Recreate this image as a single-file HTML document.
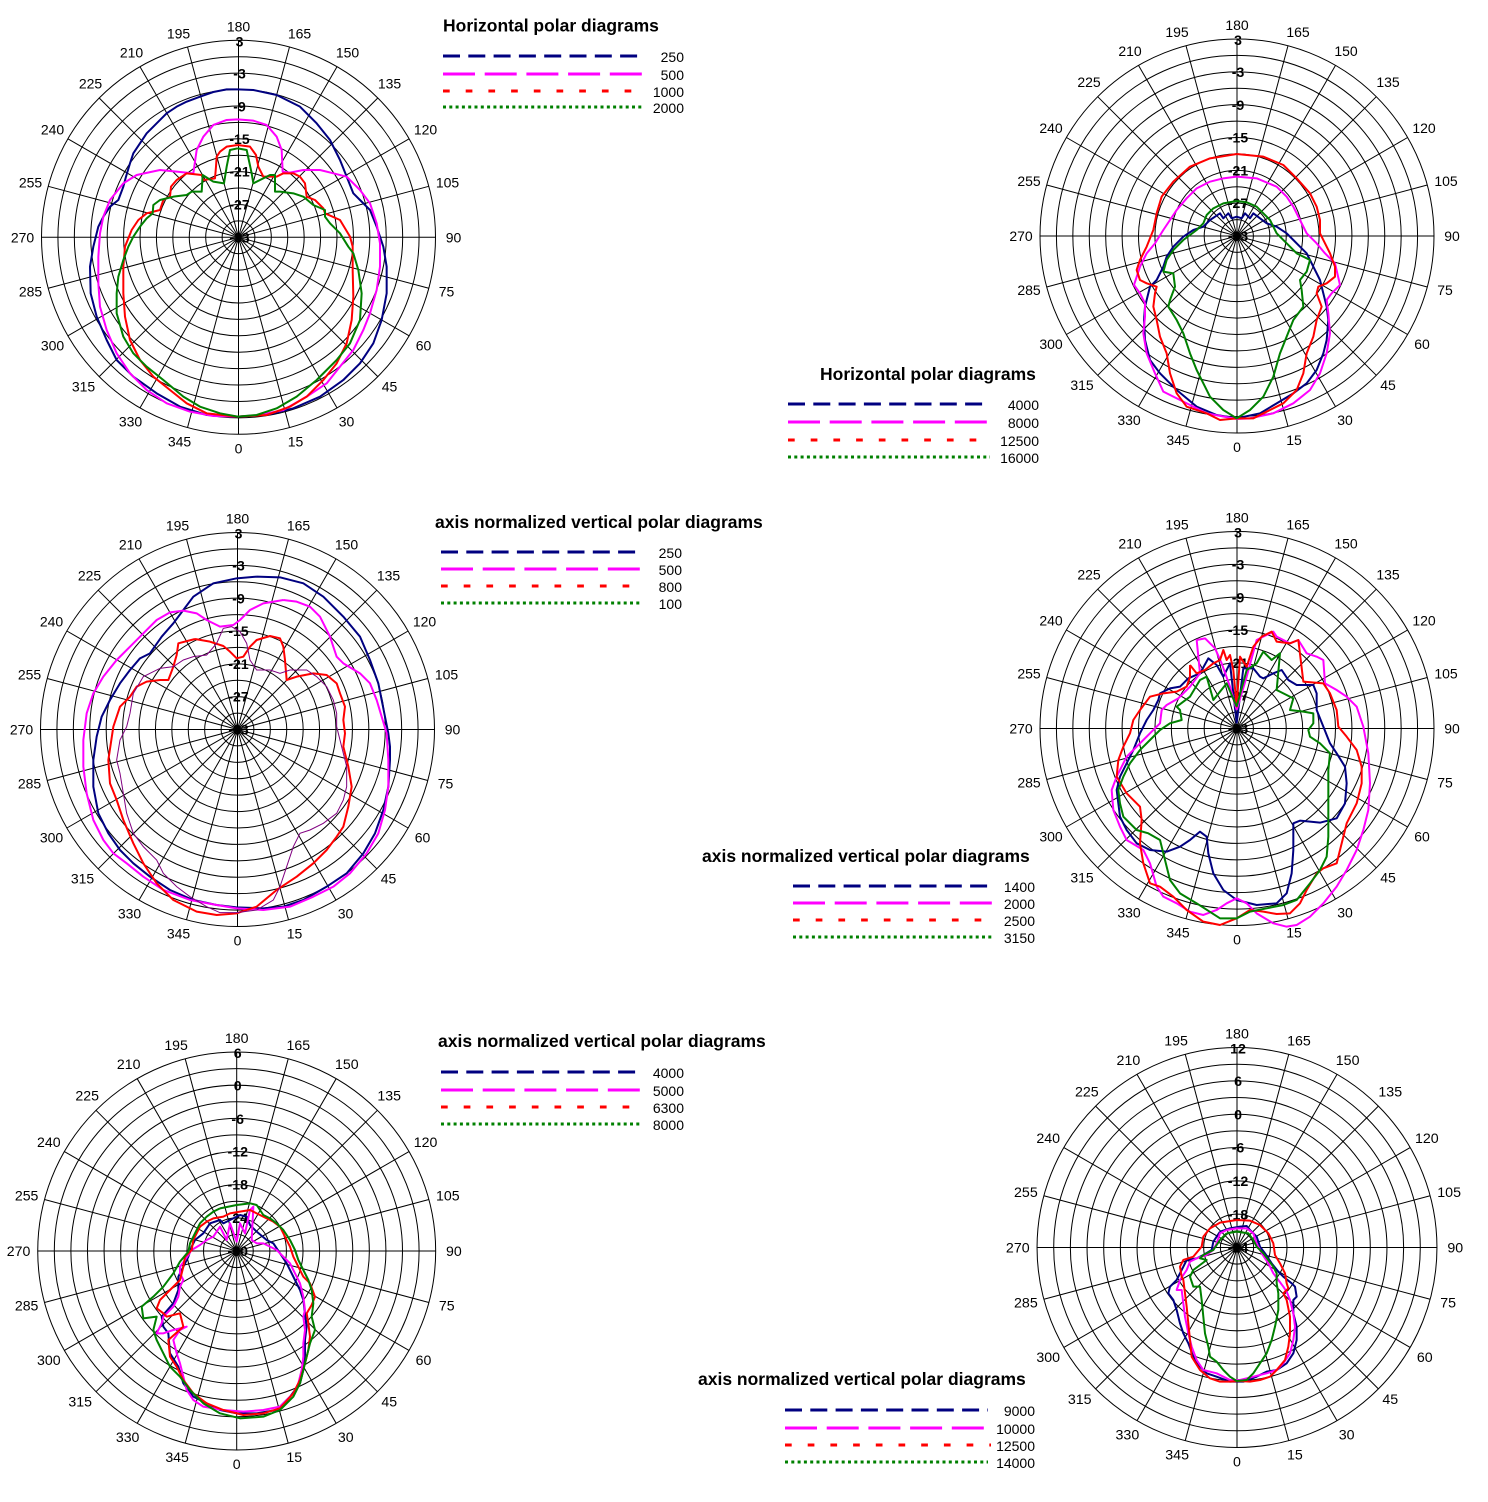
<!DOCTYPE html>
<html>
<head>
<meta charset="utf-8">
<style>
html,body{margin:0;padding:0;background:#fff;}
svg{display:block;}
text{font-family:"Liberation Sans",Arial,sans-serif;fill:#000;}
.a{font-size:14px;text-anchor:middle;}
.r{font-size:14px;font-weight:bold;text-anchor:middle;}
.t{font-size:17.5px;font-weight:bold;}
.l{font-size:14px;text-anchor:end;}
.c{fill:none;stroke-width:2;stroke-linejoin:round;vector-effect:non-scaling-stroke;}
.n{stroke:#000080;} .m{stroke:#ff00ff;} .d{stroke:#ff0000;} .g{stroke:#008000;}
.p{fill:none;stroke:#800080;stroke-width:1;vector-effect:non-scaling-stroke;}
.ln{stroke:#000080;stroke-width:3;stroke-dasharray:17 8.3;}
.lm{stroke:#ff00ff;stroke-width:3;stroke-dasharray:32 9.7;}
.ld{stroke:#ff0000;stroke-width:3;stroke-dasharray:6.7 16;}
.lg{stroke:#008000;stroke-width:3;stroke-dasharray:3 3.3;}
</style>
</head>
<body>
<svg width="1488" height="1502" viewBox="0 0 1488 1502" xmlns="http://www.w3.org/2000/svg">
<defs>
<g id="grid" fill="none" stroke="#000" stroke-width="1">
<circle r="16.42"/><circle r="32.83"/><circle r="49.25"/><circle r="65.67"/><circle r="82.08"/><circle r="98.5"/>
<circle r="114.92"/><circle r="131.33"/><circle r="147.75"/><circle r="164.17"/><circle r="180.58"/><circle r="197"/>
<line x1="0" y1="-197" x2="0" y2="197"/>
<line x1="0" y1="-197" x2="0" y2="197" transform="rotate(15)"/>
<line x1="0" y1="-197" x2="0" y2="197" transform="rotate(30)"/>
<line x1="0" y1="-197" x2="0" y2="197" transform="rotate(45)"/>
<line x1="0" y1="-197" x2="0" y2="197" transform="rotate(60)"/>
<line x1="0" y1="-197" x2="0" y2="197" transform="rotate(75)"/>
<line x1="0" y1="-197" x2="0" y2="197" transform="rotate(90)"/>
<line x1="0" y1="-197" x2="0" y2="197" transform="rotate(105)"/>
<line x1="0" y1="-197" x2="0" y2="197" transform="rotate(120)"/>
<line x1="0" y1="-197" x2="0" y2="197" transform="rotate(135)"/>
<line x1="0" y1="-197" x2="0" y2="197" transform="rotate(150)"/>
<line x1="0" y1="-197" x2="0" y2="197" transform="rotate(165)"/>
</g>
</defs>

<!-- ============ PLOT 1 : top-left ============ -->
<g transform="translate(238.5,237.3)">
<use href="#grid"/>
<text class="a" x="0" y="216">0</text><text class="a" x="57" y="209">15</text><text class="a" x="108" y="189">30</text><text class="a" x="151" y="154">45</text><text class="a" x="185" y="113">60</text><text class="a" x="208" y="59">75</text><text class="a" x="215" y="5">90</text><text class="a" x="209" y="-50">105</text><text class="a" x="187" y="-103">120</text><text class="a" x="151" y="-149">135</text><text class="a" x="109" y="-180">150</text><text class="a" x="61" y="-199">165</text><text class="a" x="0" y="-206">180</text><text class="a" x="-60" y="-199">195</text><text class="a" x="-107" y="-180">210</text><text class="a" x="-148" y="-149">225</text><text class="a" x="-186" y="-103">240</text><text class="a" x="-208" y="-50">255</text><text class="a" x="-216" y="5">270</text><text class="a" x="-208" y="59">285</text><text class="a" x="-186" y="113">300</text><text class="a" x="-155" y="154">315</text><text class="a" x="-108" y="189">330</text><text class="a" x="-59" y="209">345</text>
<text class="r" x="1" y="-191">3</text><text class="r" x="1" y="-159">-3</text><text class="r" x="1" y="-126">-9</text><text class="r" x="1" y="-93.5">-15</text><text class="r" x="1" y="-60.7">-21</text><text class="r" x="1" y="-27.8">-27</text><text class="r" x="1" y="5">-33</text>
</g>
<g transform="translate(0,0) scale(0.33333)">
<polyline class="c n" points="713,268 680,268 640,276 600,290 560,305 530,320 500,340 470,370 440,400 420,430 400,460 390,490 378,530 370,560 355,600 330,620 310,650 295,680 280,740 270,800 272,880 290,950 320,1020 350,1080 400,1130 470,1180 540,1220 620,1245 713,1250 800,1245 880,1225 960,1190 1030,1140 1080,1090 1120,1030 1145,960 1160,880 1160,800 1150,740 1130,680 1110,630 1080,600 1060,580 1040,530 1020,480 990,420 950,370 900,320 830,285 760,270 713,268"/>
<polyline class="c m" points="713,358 760,362 800,375 830,410 845,450 848,515 870,518 910,510 960,510 1000,520 1040,530 1080,570 1110,610 1130,670 1140,730 1140,800 1130,870 1110,940 1090,990 1060,1050 1020,1100 980,1150 920,1190 850,1230 780,1245 713,1250 640,1248 570,1235 500,1210 440,1170 390,1120 350,1060 320,990 300,920 295,850 295,770 300,700 310,650 330,600 370,550 410,525 480,510 530,515 580,520 590,450 610,410 640,375 680,360 713,358"/>
<polyline class="c d" points="713,435 750,440 768,465 775,500 790,530 830,530 850,520 880,520 900,530 915,550 920,590 945,600 970,625 975,640 1020,660 1050,710 1058,740 1058,810 1060,890 1055,960 1040,1030 1010,1090 970,1140 920,1190 870,1220 800,1245 713,1250 620,1240 560,1210 510,1170 460,1130 420,1080 390,1020 375,950 370,880 370,800 375,740 395,690 415,660 440,640 480,630 490,600 510,590 513,560 530,540 560,520 605,525 610,540 645,535 648,500 650,470 660,455 680,440 713,435"/>
<polyline class="c g" points="713,445 740,450 755,520 760,550 810,525 825,525 825,575 840,575 880,580 910,590 940,615 975,630 975,650 990,670 1020,700 1045,740 1060,760 1075,810 1085,880 1080,960 1050,1030 1010,1080 950,1140 890,1190 830,1225 770,1245 713,1250 660,1240 600,1220 550,1190 490,1140 440,1100 400,1060 370,1010 350,940 350,880 355,830 370,780 385,740 400,710 420,680 440,655 458,640 460,615 480,600 520,590 560,585 575,575 605,575 608,525 640,545 672,550 680,500 690,450 713,445"/>
</g>
<text class="t" x="443" y="31.5">Horizontal polar diagrams</text>
<line class="ln" x1="443" y1="56" x2="643" y2="56"/>
<line class="lm" x1="443" y1="74" x2="643" y2="74"/>
<line class="ld" x1="443" y1="91" x2="646" y2="91"/>
<line class="lg" x1="443" y1="107" x2="643" y2="107"/>
<text class="l" x="684" y="62">250</text>
<text class="l" x="684" y="80">500</text>
<text class="l" x="684" y="97">1000</text>
<text class="l" x="684" y="113">2000</text>

<!-- ============ PLOT 2 : top-right ============ -->
<g transform="translate(1237,236)">
<use href="#grid"/>
<text class="a" x="0" y="216">0</text><text class="a" x="57" y="209">15</text><text class="a" x="108" y="189">30</text><text class="a" x="151" y="154">45</text><text class="a" x="185" y="113">60</text><text class="a" x="208" y="59">75</text><text class="a" x="215" y="5">90</text><text class="a" x="209" y="-50">105</text><text class="a" x="187" y="-103">120</text><text class="a" x="151" y="-149">135</text><text class="a" x="109" y="-180">150</text><text class="a" x="61" y="-199">165</text><text class="a" x="0" y="-206">180</text><text class="a" x="-60" y="-199">195</text><text class="a" x="-107" y="-180">210</text><text class="a" x="-148" y="-149">225</text><text class="a" x="-186" y="-103">240</text><text class="a" x="-208" y="-50">255</text><text class="a" x="-216" y="5">270</text><text class="a" x="-208" y="59">285</text><text class="a" x="-186" y="113">300</text><text class="a" x="-155" y="154">315</text><text class="a" x="-108" y="189">330</text><text class="a" x="-59" y="209">345</text>
<text class="r" x="1" y="-191">3</text><text class="r" x="1" y="-159">-3</text><text class="r" x="1" y="-126">-9</text><text class="r" x="1" y="-93.5">-15</text><text class="r" x="1" y="-60.7">-21</text><text class="r" x="1" y="-27.8">-27</text><text class="r" x="1" y="5">-33</text>
</g>
<g transform="translate(1030,120) scale(0.33333)">
<polyline class="c n" points="520,320 540,300 555,290 570,280 580,295 595,280 605,295 620,290 635,295 645,280 660,295 670,280 690,295 710,310 740,320 770,340 790,360 810,380 830,400 840,420 850,440 870,480 880,520 890,560 895,600 890,660 880,700 860,750 830,790 790,820 740,850 690,880 620,895 560,885 500,860 440,810 390,760 360,720 345,660 342,600 345,560 360,500 380,480 400,440 410,410 430,380 460,350 490,330 520,320"/>
<polyline class="c m" points="620,170 680,175 740,200 770,230 790,260 810,300 830,340 860,370 885,400 915,430 930,495 905,520 890,540 895,580 900,640 890,700 870,760 840,810 790,850 730,880 660,895 620,897 530,880 460,845 400,815 375,760 350,700 340,640 345,590 345,550 330,520 312,495 330,440 350,400 375,370 400,330 420,300 440,270 470,235 500,205 540,185 580,175 620,170"/>
<polyline class="c d" points="620,102 700,110 760,135 800,175 840,220 860,260 870,300 870,340 900,400 915,440 915,470 890,490 865,500 860,520 875,560 860,600 850,650 830,700 820,760 800,810 760,850 700,880 670,895 620,895 570,900 530,880 470,860 440,820 420,760 410,700 390,650 380,600 370,560 375,520 380,500 350,490 330,480 320,450 330,420 350,380 370,330 380,280 395,230 430,185 480,140 540,115 620,102"/>
<polyline class="c g" points="620,243 650,247 680,260 700,280 720,300 740,340 770,370 800,400 840,420 830,455 810,480 815,510 820,560 790,600 770,650 750,700 730,770 700,830 660,870 620,895 580,870 540,830 520,790 500,750 480,700 460,640 440,600 415,560 420,540 435,500 430,460 400,455 410,420 430,390 460,360 500,330 520,310 530,285 550,265 580,250 620,243"/>
</g>
<text class="t" x="820" y="380">Horizontal polar diagrams</text>
<line class="ln" x1="788" y1="404" x2="990" y2="404"/>
<line class="lm" x1="788" y1="422" x2="990" y2="422"/>
<line class="ld" x1="788" y1="440" x2="991" y2="440"/>
<line class="lg" x1="788" y1="457" x2="990" y2="457"/>
<text class="l" x="1039" y="410">4000</text>
<text class="l" x="1039" y="428">8000</text>
<text class="l" x="1039" y="446">12500</text>
<text class="l" x="1039" y="463">16000</text>

<!-- ============ PLOT 3 : middle-left ============ -->
<g transform="translate(237.5,729.5)">
<use href="#grid"/>
<text class="a" x="0" y="216">0</text><text class="a" x="57" y="209">15</text><text class="a" x="108" y="189">30</text><text class="a" x="151" y="154">45</text><text class="a" x="185" y="113">60</text><text class="a" x="208" y="59">75</text><text class="a" x="215" y="5">90</text><text class="a" x="209" y="-50">105</text><text class="a" x="187" y="-103">120</text><text class="a" x="151" y="-149">135</text><text class="a" x="109" y="-180">150</text><text class="a" x="61" y="-199">165</text><text class="a" x="0" y="-206">180</text><text class="a" x="-60" y="-199">195</text><text class="a" x="-107" y="-180">210</text><text class="a" x="-148" y="-149">225</text><text class="a" x="-186" y="-103">240</text><text class="a" x="-208" y="-50">255</text><text class="a" x="-216" y="5">270</text><text class="a" x="-208" y="59">285</text><text class="a" x="-186" y="113">300</text><text class="a" x="-155" y="154">315</text><text class="a" x="-108" y="189">330</text><text class="a" x="-59" y="209">345</text>
<text class="r" x="1" y="-191">3</text><text class="r" x="1" y="-159">-3</text><text class="r" x="1" y="-126">-9</text><text class="r" x="1" y="-93.5">-15</text><text class="r" x="1" y="-60.7">-21</text><text class="r" x="1" y="-27.8">-27</text><text class="r" x="1" y="5">-33</text>
</g>
<g transform="translate(50,560) scale(0.33333)">
<polyline class="c n" points="620,50 690,52 760,70 820,110 880,170 930,230 960,300 985,370 995,420 1005,470 1015,520 1020,560 1020,600 1015,680 1000,750 975,820 940,880 890,940 830,980 760,1020 700,1040 640,1045 560,1042 500,1035 430,1020 360,990 300,950 250,910 210,870 175,820 145,760 130,680 130,600 140,530 155,470 180,420 210,370 240,330 270,295 300,280 335,230 370,190 400,150 430,110 490,70 560,55 620,50"/>
<polyline class="c m" points="700,120 740,125 780,140 810,170 840,230 860,290 880,310 930,340 960,370 980,420 995,470 1010,520 1015,600 1015,680 1005,750 985,820 950,880 900,940 850,980 790,1010 720,1040 640,1050 560,1045 500,1035 420,1020 340,990 280,950 230,910 190,880 160,840 130,780 110,700 100,620 100,540 110,460 130,400 160,350 200,300 240,260 280,220 320,180 360,157 400,152 440,160 470,180 510,200 550,195 570,180 600,150 640,130 700,120"/>
<polyline class="c d" points="435,237 480,245 520,258 540,275 560,295 580,290 600,260 620,240 660,228 690,235 700,260 705,300 710,360 740,350 790,340 830,345 860,370 870,400 885,440 880,480 885,520 880,560 895,620 905,680 895,740 880,800 860,830 830,870 790,910 740,950 680,990 620,1040 560,1060 500,1065 440,1055 370,1020 320,970 280,910 250,850 220,780 200,720 180,670 175,600 190,500 210,440 240,410 260,380 290,365 330,360 355,360 370,320 380,285 385,250 435,237"/>
<polyline class="p" points="520,205 545,200 570,215 590,250 600,300 620,330 660,330 690,340 720,330 770,330 800,350 830,380 850,420 860,460 860,500 870,540 880,580 890,620 890,680 880,720 860,760 820,790 780,810 750,820 730,860 710,920 690,980 670,1020 620,1050 560,1058 510,1058 470,1040 420,1010 380,980 340,940 320,900 280,860 250,820 230,760 220,700 210,640 200,600 210,540 230,500 240,460 250,400 280,350 330,325 370,320 400,300 430,290 470,285 500,250 520,205"/>
</g>
<text class="t" x="435" y="528">axis normalized vertical polar diagrams</text>
<line class="ln" x1="441" y1="552" x2="641" y2="552"/>
<line class="lm" x1="441" y1="569" x2="641" y2="569"/>
<line class="ld" x1="441" y1="586" x2="644" y2="586"/>
<line class="lg" x1="441" y1="603" x2="641" y2="603"/>
<text class="l" x="682" y="558">250</text>
<text class="l" x="682" y="575">500</text>
<text class="l" x="682" y="592">800</text>
<text class="l" x="682" y="609">100</text>

<!-- ============ PLOT 4 : middle-right ============ -->
<g transform="translate(1237,728.5)">
<use href="#grid"/>
<text class="a" x="0" y="216">0</text><text class="a" x="57" y="209">15</text><text class="a" x="108" y="189">30</text><text class="a" x="151" y="154">45</text><text class="a" x="185" y="113">60</text><text class="a" x="208" y="59">75</text><text class="a" x="215" y="5">90</text><text class="a" x="209" y="-50">105</text><text class="a" x="187" y="-103">120</text><text class="a" x="151" y="-149">135</text><text class="a" x="109" y="-180">150</text><text class="a" x="61" y="-199">165</text><text class="a" x="0" y="-206">180</text><text class="a" x="-60" y="-199">195</text><text class="a" x="-107" y="-180">210</text><text class="a" x="-148" y="-149">225</text><text class="a" x="-186" y="-103">240</text><text class="a" x="-208" y="-50">255</text><text class="a" x="-216" y="5">270</text><text class="a" x="-208" y="59">285</text><text class="a" x="-186" y="113">300</text><text class="a" x="-155" y="154">315</text><text class="a" x="-108" y="189">330</text><text class="a" x="-59" y="209">345</text>
<text class="r" x="1" y="-191">3</text><text class="r" x="1" y="-159">-3</text><text class="r" x="1" y="-126">-9</text><text class="r" x="1" y="-93.5">-15</text><text class="r" x="1" y="-60.7">-21</text><text class="r" x="1" y="-27.8">-27</text><text class="r" x="1" y="5">-33</text>
</g>
<g transform="translate(1090,610) scale(0.33333)">
<polyline class="c n" points="440,340 460,175 490,175 510,200 520,205 550,190 575,180 595,210 620,225 670,225 680,250 680,300 700,350 720,400 740,430 765,470 770,520 765,580 740,625 690,638 630,632 610,640 610,720 605,790 590,850 560,880 500,885 440,870 400,840 370,790 355,730 350,680 330,665 300,690 270,710 230,725 180,720 140,700 110,660 90,620 85,580 80,540 90,500 110,460 130,420 150,370 170,330 190,300 205,270 210,250 240,235 270,230 295,205 330,190 355,145 380,165 400,200 420,160 440,340"/>
<polyline class="c m" points="440,300 470,200 500,90 520,80 550,65 560,80 600,100 625,90 650,130 680,140 700,150 705,220 740,240 770,260 800,290 820,350 835,430 840,520 835,600 820,660 800,720 770,780 740,830 700,880 660,920 620,945 590,950 550,940 500,910 470,880 440,865 410,880 380,900 340,915 300,905 260,880 220,860 200,830 180,760 160,720 110,690 90,650 70,600 65,540 80,500 110,440 140,410 180,370 210,340 215,300 230,285 265,265 280,250 300,230 330,190 320,90 345,85 375,115 395,160 420,230 440,300"/>
<polyline class="c d" points="300,165 320,190 345,180 370,160 390,150 400,120 410,150 420,135 430,180 440,290 450,140 470,170 490,110 515,80 545,65 560,95 600,100 625,90 640,215 700,220 720,250 740,300 745,350 770,380 800,420 815,470 815,520 800,580 770,640 755,700 740,760 700,775 680,790 650,840 630,880 600,910 560,912 520,905 480,900 440,925 390,945 340,935 290,900 250,860 210,830 180,820 160,760 150,700 155,630 150,590 110,550 80,500 85,450 100,410 120,370 130,330 150,300 180,260 220,250 260,245 290,230 300,200 300,165"/>
<polyline class="c g" points="440,290 470,180 500,160 520,125 545,150 570,130 560,240 610,265 600,300 640,305 670,310 670,340 655,360 660,380 690,400 720,430 715,480 715,540 715,620 715,680 710,740 690,780 660,820 620,870 580,885 530,895 480,905 440,925 390,925 320,880 270,850 240,810 225,750 210,690 175,670 140,660 100,620 90,580 85,540 100,500 120,460 150,420 180,390 210,360 240,340 275,330 270,300 260,290 300,260 330,210 350,200 370,270 410,220 440,290"/>
</g>
<text class="t" x="702" y="862">axis normalized vertical polar diagrams</text>
<line class="ln" x1="793" y1="886" x2="993" y2="886"/>
<line class="lm" x1="793" y1="903" x2="993" y2="903"/>
<line class="ld" x1="793" y1="920" x2="996" y2="920"/>
<line class="lg" x1="793" y1="937" x2="993" y2="937"/>
<text class="l" x="1035" y="892">1400</text>
<text class="l" x="1035" y="909">2000</text>
<text class="l" x="1035" y="926">2500</text>
<text class="l" x="1035" y="943">3150</text>

<!-- ============ PLOT 5 : bottom-left ============ -->
<g transform="translate(236.7,1251) scale(1.01)">
<use href="#grid"/>
<text class="a" x="0" y="216">0</text><text class="a" x="57" y="209">15</text><text class="a" x="108" y="189">30</text><text class="a" x="151" y="154">45</text><text class="a" x="185" y="113">60</text><text class="a" x="208" y="59">75</text><text class="a" x="215" y="5">90</text><text class="a" x="209" y="-50">105</text><text class="a" x="187" y="-103">120</text><text class="a" x="151" y="-149">135</text><text class="a" x="109" y="-180">150</text><text class="a" x="61" y="-199">165</text><text class="a" x="0" y="-206">180</text><text class="a" x="-60" y="-199">195</text><text class="a" x="-107" y="-180">210</text><text class="a" x="-148" y="-149">225</text><text class="a" x="-186" y="-103">240</text><text class="a" x="-208" y="-50">255</text><text class="a" x="-216" y="5">270</text><text class="a" x="-208" y="59">285</text><text class="a" x="-186" y="113">300</text><text class="a" x="-155" y="154">315</text><text class="a" x="-108" y="189">330</text><text class="a" x="-59" y="209">345</text>
<text class="r" x="1" y="-191">6</text><text class="r" x="1" y="-159">0</text><text class="r" x="1" y="-126">-6</text><text class="r" x="1" y="-93.5">-12</text><text class="r" x="1" y="-60.7">-18</text><text class="r" x="1" y="-27.8">-24</text><text class="r" x="1" y="5">-30</text>
</g>
<g transform="translate(130,1190) scale(0.33333)">
<polyline class="c n" points="195,150 220,130 240,100 270,90 280,100 300,90 330,75 350,80 360,105 380,125 410,150 430,160 450,190 470,220 490,260 510,300 520,330 525,370 530,410 525,450 525,500 520,540 510,580 480,620 440,660 380,670 320,670 270,660 230,640 190,620 160,580 145,530 120,490 115,430 100,410 95,380 130,340 145,300 145,260 160,230 175,200 185,170 195,150"/>
<polyline class="c m" points="185,180 210,165 230,150 250,140 270,110 290,150 300,100 320,155 330,100 345,130 360,60 370,50 365,150 380,160 400,160 420,170 440,180 460,200 480,220 495,250 510,280 520,320 525,360 520,380 525,420 520,460 520,500 515,540 505,580 490,610 450,650 400,660 340,665 280,660 220,650 190,630 170,600 160,560 150,520 140,490 130,450 150,420 170,410 130,420 100,430 80,430 95,400 100,380 130,350 145,320 150,290 160,270 150,250 150,230 165,210 185,180"/>
<polyline class="c d" points="210,110 230,95 250,85 280,80 300,70 330,65 360,60 380,70 410,85 430,95 450,110 465,140 480,170 490,200 505,230 520,260 540,280 555,320 545,345 530,370 535,400 540,440 535,480 525,520 510,570 490,610 450,655 400,670 340,675 280,660 230,640 190,610 160,570 140,530 120,500 115,450 160,410 150,370 110,380 100,370 80,355 90,330 120,300 150,270 160,230 165,200 185,180 190,150 210,110"/>
<polyline class="c g" points="270,55 320,45 360,40 380,45 400,75 420,85 440,100 460,120 480,150 495,180 505,210 520,240 535,270 545,300 550,340 545,380 555,420 540,460 530,500 520,540 510,580 490,620 450,660 400,680 330,685 270,670 220,640 180,600 150,560 120,530 100,490 80,450 70,420 80,380 40,385 35,350 70,320 100,290 130,250 150,215 175,185 180,160 200,120 210,100 230,80 250,65 270,55"/>
</g>
<text class="t" x="438" y="1047">axis normalized vertical polar diagrams</text>
<line class="ln" x1="441" y1="1072" x2="641" y2="1072"/>
<line class="lm" x1="441" y1="1090" x2="641" y2="1090"/>
<line class="ld" x1="441" y1="1107" x2="644" y2="1107"/>
<line class="lg" x1="441" y1="1124" x2="641" y2="1124"/>
<text class="l" x="684" y="1078">4000</text>
<text class="l" x="684" y="1096">5000</text>
<text class="l" x="684" y="1113">6300</text>
<text class="l" x="684" y="1130">8000</text>

<!-- ============ PLOT 6 : bottom-right ============ -->
<g transform="translate(1237,1247.5) scale(1.015)">
<use href="#grid"/>
<text class="a" x="0" y="216">0</text><text class="a" x="57" y="209">15</text><text class="a" x="108" y="189">30</text><text class="a" x="151" y="154">45</text><text class="a" x="185" y="113">60</text><text class="a" x="208" y="59">75</text><text class="a" x="215" y="5">90</text><text class="a" x="209" y="-50">105</text><text class="a" x="187" y="-103">120</text><text class="a" x="151" y="-149">135</text><text class="a" x="109" y="-180">150</text><text class="a" x="61" y="-199">165</text><text class="a" x="0" y="-206">180</text><text class="a" x="-60" y="-199">195</text><text class="a" x="-107" y="-180">210</text><text class="a" x="-148" y="-149">225</text><text class="a" x="-186" y="-103">240</text><text class="a" x="-208" y="-50">255</text><text class="a" x="-216" y="5">270</text><text class="a" x="-208" y="59">285</text><text class="a" x="-186" y="113">300</text><text class="a" x="-155" y="154">315</text><text class="a" x="-108" y="189">330</text><text class="a" x="-59" y="209">345</text>
<text class="r" x="1" y="-191">12</text><text class="r" x="1" y="-159">6</text><text class="r" x="1" y="-126">0</text><text class="r" x="1" y="-93.5">-6</text><text class="r" x="1" y="-60.7">-12</text><text class="r" x="1" y="-27.8">-18</text><text class="r" x="1" y="5">-24</text>
</g>
<g transform="translate(1150,1200) scale(0.33333)">
<polyline class="c n" points="210,95 240,85 270,80 290,78 300,90 320,110 330,140 345,160 365,190 385,215 400,230 425,250 435,260 440,290 430,300 430,340 440,380 440,420 430,460 410,490 380,510 350,515 320,530 280,545 240,545 200,530 170,520 150,500 130,470 115,430 100,400 90,370 80,330 70,300 55,280 60,260 80,240 100,200 110,180 140,175 160,165 185,150 190,125 210,95"/>
<polyline class="c m" points="230,90 260,85 290,85 310,100 320,130 335,160 355,190 370,220 385,240 400,260 410,275 420,300 430,340 435,380 430,420 420,460 400,490 380,510 350,520 310,530 270,540 240,540 200,520 160,510 140,480 125,440 115,400 105,350 100,310 95,270 80,270 90,240 110,210 120,185 140,175 170,165 190,150 200,130 210,100 230,90"/>
<polyline class="c d" points="260,60 300,62 330,75 355,100 370,130 375,165 390,190 405,220 410,250 415,265 400,280 410,300 420,350 420,400 415,440 405,480 380,510 360,530 330,540 300,545 270,543 240,545 210,545 180,535 150,510 125,470 120,420 115,370 110,320 105,280 100,240 95,230 90,200 100,180 130,170 155,140 160,110 180,85 210,68 260,60"/>
<polyline class="c g" points="230,100 260,95 295,100 310,120 320,140 340,160 355,180 370,200 380,220 380,250 385,280 385,330 375,380 365,420 350,460 330,490 310,520 290,540 260,543 240,530 220,510 200,485 180,470 175,440 165,400 160,350 155,300 150,260 130,260 120,230 130,210 150,195 170,180 150,175 160,165 190,150 210,120 230,100"/>
</g>
<text class="t" x="698" y="1385">axis normalized vertical polar diagrams</text>
<line class="ln" x1="785" y1="1410" x2="988" y2="1410"/>
<line class="lm" x1="785" y1="1428" x2="988" y2="1428"/>
<line class="ld" x1="785" y1="1445" x2="991" y2="1445"/>
<line class="lg" x1="785" y1="1462" x2="988" y2="1462"/>
<text class="l" x="1035" y="1416">9000</text>
<text class="l" x="1035" y="1434">10000</text>
<text class="l" x="1035" y="1451">12500</text>
<text class="l" x="1035" y="1468">14000</text>
</svg>
</body>
</html>
